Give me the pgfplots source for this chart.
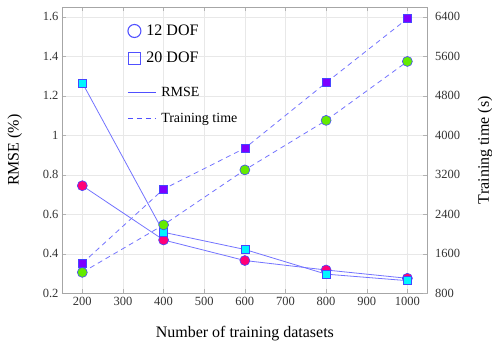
\documentclass[border=0pt]{standalone}
\usepackage{pgfplots}
\pgfplotsset{compat=1.18}
\usepackage{fontspec}
\setmainfont{Liberation Serif}
\definecolor{lineblue}{RGB}{115,115,255}
\definecolor{edgeblue}{RGB}{70,70,255}
\definecolor{legblue}{RGB}{80,80,255}
\definecolor{mag}{RGB}{255,0,120}
\definecolor{cya}{RGB}{0,245,255}
\definecolor{grn}{RGB}{100,235,0}
\definecolor{pur}{RGB}{125,0,255}
\pgfplotsset{
  common/.style={
    scale only axis, width=365.7pt, height=286.3pt,
    xmin=150, xmax=1050,
    /pgf/number format/assume math mode=true,
    /pgf/number format/1000 sep={},
    tick label style={font=\fontsize{12.5}{14}\selectfont, text=black!80},
    label style={font=\fontsize{16}{18}\selectfont},
    axis line style={gray!70},
    tick style={gray!60},
  },
  legcirc/.style={legend image code/.code={\draw[color=legblue, line width=1.1pt] (14pt,0pt) circle (6.5pt);}},
  legsq/.style={legend image code/.code={\draw[color=legblue, line width=1.1pt] (8pt,-6pt) rectangle (20pt,6pt);}},
  legline/.style={legend image code/.code={\draw[color=legblue, line width=0.9pt] (0pt,0pt) -- (28pt,0pt);}},
  legdash/.style={legend image code/.code={\draw[color=legblue, line width=0.9pt, dash pattern=on 5pt off 4pt] (0pt,0pt) -- (28pt,0pt);}},
}
\begin{document}
\begin{tikzpicture}
\begin{axis}[common,
  ymin=0.2, ymax=1.65,
  axis y line*=left,
  xtick={200,300,400,500,600,700,800,900,1000},
  ytick={0.2,0.4,0.6,0.8,1.0,1.2,1.4,1.6},
  grid=major, grid style={gray!18},
  xlabel={Number of training datasets},
  ylabel={RMSE (\%)},
  xlabel style={at={(axis description cs:0.5,-0.14)}, anchor=center},
  ylabel style={at={(axis description cs:-0.129,0.5)}, anchor=center},
  legend cell align=left,
  legend style={at={(rel axis cs:0.17,0.952)}, anchor=north west, draw=none, fill=none, row sep=11pt,
    nodes={inner xsep=5pt}, font=\fontsize{16}{18}\selectfont},
]
\coordinate (sw) at (rel axis cs:0,0);
\addlegendimage{legcirc}
\addlegendentry{12 DOF}
\addlegendimage{legsq}
\addlegendentry{20 DOF}
\addplot[lineblue, line width=0.8pt, mark=*, mark size=5pt, mark options={fill=mag, draw=edgeblue, line width=0.6pt}, forget plot]
  coordinates {(200,0.745) (400,0.470) (600,0.366) (800,0.318) (1000,0.276)};
\addplot[lineblue, line width=0.8pt, mark=square*, mark size=4pt, mark options={fill=cya, draw=edgeblue, line width=0.6pt}, forget plot]
  coordinates {(200,1.266) (400,0.509) (600,0.422) (800,0.297) (1000,0.264)};
\end{axis}
\begin{axis}[common,
  ymin=800, ymax=6600,
  axis y line*=right, axis x line=none,
  ytick={800,1600,2400,3200,4000,4800,5600,6400},
  ylabel={Training time (s)},
  ylabel style={at={(axis description cs:1.157,0.5)}, anchor=center},
  yticklabel style={xshift=4pt},
  legend cell align=left,
  legend style={at={(rel axis cs:0.17,0.735)}, anchor=north west, draw=none, fill=none, row sep=11pt,
    nodes={inner xsep=5pt}, font=\fontsize{14}{16}\selectfont},
]
\addlegendimage{legline}
\addlegendentry{RMSE}
\addlegendimage{legdash}
\addlegendentry{Training time}
\addplot[lineblue, line width=0.8pt, dash pattern=on 5pt off 4pt, mark=*, mark size=5pt, mark options={solid, fill=grn, draw=edgeblue, line width=0.6pt}, forget plot]
  coordinates {(200,1224) (400,2186) (600,3300) (800,4303) (1000,5497)};
\addplot[lineblue, line width=0.8pt, dash pattern=on 5pt off 4pt, mark=square*, mark size=4pt, mark options={solid, fill=pur, draw=edgeblue, line width=0.6pt}, forget plot]
  coordinates {(200,1408) (400,2912) (600,3740) (800,5067) (1000,6365)};
\end{axis}
\pgfresetboundingbox
\path[use as bounding box] ([shift={(-62pt,-55.7pt)}]sw) rectangle ([shift={(430pt,293.3pt)}]sw);
\end{tikzpicture}
\end{document}
